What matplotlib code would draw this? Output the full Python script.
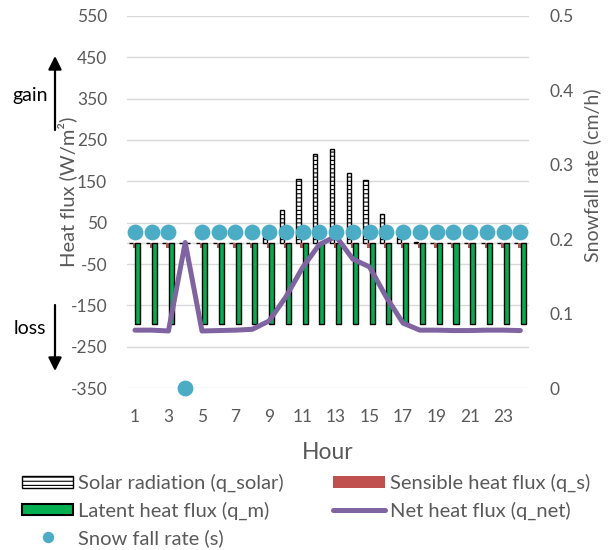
import matplotlib
matplotlib.use('Agg')
import numpy as np
import matplotlib.pyplot as plt
from matplotlib.lines import Line2D
from matplotlib.patches import Patch

plt.rcParams['font.family'] = ['Lato', 'DejaVu Sans']
plt.rcParams['hatch.linewidth'] = 0.8
plt.rcParams['axes.unicode_minus'] = False

hours = list(range(1, 25))
x_labels = [1, 3, 5, 7, 9, 11, 13, 15, 17, 19, 21, 23]

# heat fluxes (W/m2)
q_solar = [0, 0, 0, 0, 0, 0, 0, 2, 15, 80, 155, 215, 229, 169, 153, 70, 15, 3, 0, 0, 0, 0, 0, 0]
q_s = [-12, -12, -12, 0, -12, -12, -12, -12, -12, -12, -12, -12,
       -12, -12, -12, -12, -12, -12, -12, -12, -12, -12, -12, -12]
q_m = [-196, -196, -196, 0, -196, -196, -196, -196, -196, -196, -196, -196,
       -196, -196, -196, -196, -196, -196, -196, -196, -196, -196, -196, -196]
q_net = [-210, -210, -212, 2, -212, -211, -210, -208, -188, -130, -59, -3,
         17, -38, -57, -130, -193, -210, -210, -211, -211, -210, -210, -211]
# snowfall rate (cm/h)
snow = [0.21, 0.21, 0.21, 0, 0.21, 0.21, 0.21, 0.21, 0.21, 0.21, 0.21, 0.21,
        0.21, 0.21, 0.21, 0.21, 0.21, 0.21, 0.21, 0.21, 0.21, 0.21, 0.21, 0.21]

grey = '#595959'
c_red = '#c0504d'
c_green = '#00b050'
c_purple = '#8064a2'
c_aqua = '#4bacc6'

fig = plt.figure(figsize=(6.13, 5.5), dpi=100)
ax = fig.add_axes([0.2065, 0.2945, 0.656, 0.6765])
x = np.array(hours)

ax.bar(x - 0.24, q_solar, 0.25, color='white', edgecolor='black', lw=1.0, hatch='----', zorder=3)
ax.bar(x, q_s, 0.26, color=c_red, lw=0, zorder=3)
ax.bar(x + 0.16, q_m, 0.3, color=c_green, edgecolor='black', lw=1.0, zorder=3.5)
ax.plot(x, q_net, color=c_purple, lw=3.6, zorder=4, solid_capstyle='round')

ax.set_xlim(0.5, 24.5)
ax.set_ylim(-350, 550)
ax.set_yticks(range(-350, 551, 100))
ax.set_xticks(x_labels)
ax.grid(axis='y', color='#d9d9d9', lw=1.0, zorder=0)
ax.axhline(0, color='#d9d9d9', lw=1.0, zorder=1)
ax.tick_params(length=0, labelsize=12.5, labelcolor=grey)
ax.tick_params(axis='y', pad=14)
ax.tick_params(axis='x', pad=15)
for s in ax.spines.values():
    s.set_visible(False)
ax.set_ylabel('Heat flux (W/m²)', fontsize=14.5, color=grey)
ax.yaxis.set_label_coords(-0.124, 0.527)
ax.set_xlabel('Hour', fontsize=16.5, color=grey, labelpad=12)

ax2 = ax.twinx()
ax2.scatter(x, snow, s=130, color=c_aqua, lw=0, zorder=5, clip_on=False)
ax2.set_ylim(0, 0.5)
ax2.set_yticks([0, 0.1, 0.2, 0.3, 0.4, 0.5])
ax2.set_yticklabels(['0', '0.1', '0.2', '0.3', '0.4', '0.5'])
ax2.tick_params(length=0, labelsize=12.5, labelcolor=grey, pad=15)
for s in ax2.spines.values():
    s.set_visible(False)
ax2.set_ylabel('Snowfall rate (cm/h)', fontsize=14, color=grey)
ax2.yaxis.set_label_coords(1.136, 0.573)

# gain / loss arrows
ap = dict(arrowstyle='-|>', lw=1.6, color='black', mutation_scale=20, shrinkA=0, shrinkB=0)
ax.annotate('', xy=(55 / 613, 1 - 56 / 550), xytext=(55 / 613, 1 - 130 / 550),
            xycoords='figure fraction', textcoords='figure fraction', arrowprops=ap)
ax.annotate('', xy=(55 / 613, 1 - 371 / 550), xytext=(55 / 613, 1 - 305 / 550),
            xycoords='figure fraction', textcoords='figure fraction', arrowprops=ap)
fig.text(30 / 613, 1 - 96 / 550, 'gain', fontsize=14, ha='center', va='center')
fig.text(30 / 613, 1 - 328 / 550, 'loss', fontsize=14, ha='center', va='center')

handles = [
    Patch(facecolor='white', edgecolor='black', hatch='----', lw=1.0),
    Patch(facecolor=c_green, edgecolor='black', lw=1.5),
    Line2D([], [], marker='o', ls='', color=c_aqua, markersize=7.2),
    Patch(facecolor=c_red, lw=0),
    Line2D([], [], color=c_purple, lw=3.6, solid_capstyle='round'),
]
labels = ['Solar radiation (q_solar)', 'Latent heat flux (q_m)', 'Snow fall rate (s)',
          'Sensible heat flux (q_s)', 'Net heat flux (q_net)']
fig.legend(handles, labels, ncol=2, loc='upper left', bbox_to_anchor=(22 / 613, 1 - 474 / 550),
           frameon=False, fontsize=14.5, labelcolor=grey, handlelength=2.55, handleheight=0.5,
           handletextpad=0.25, columnspacing=2.45, labelspacing=0.45, borderpad=0, borderaxespad=0)

fig.savefig('out.png', dpi=100)
